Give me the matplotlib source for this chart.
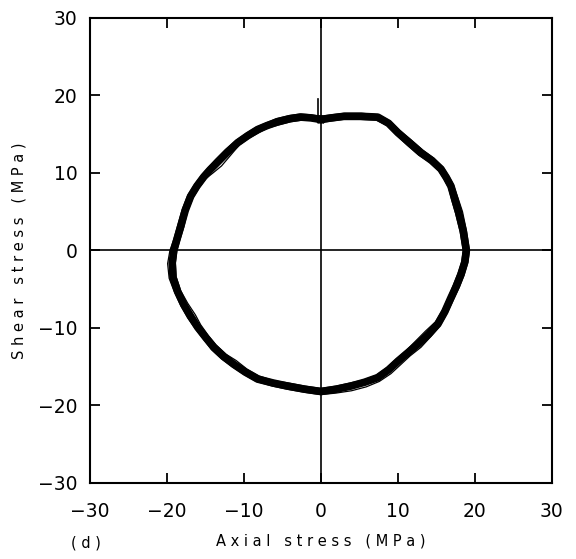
import matplotlib
matplotlib.use("Agg")
import matplotlib.pyplot as plt

# Main loop (centre of the thick band), axial / shear stress in MPa
axial_main = [0.0, -1.3, -2.6, -4.0, -5.6, -7.0, -8.2, -9.5, -10.8, -12.1,
              -13.4, -14.4, -15.2, -16.1, -16.9, -17.6, -18.2, -18.7, -19.1,
              -19.3, -19.2, -18.6, -17.8, -16.9, -16.0, -14.9, -13.9, -12.6,
              -11.3, -9.8, -8.2, -6.2, -4.3, -2.1, 0.0, 2.0, 3.9, 5.7, 7.4,
              8.8, 10.0, 11.3, 12.6, 14.0, 15.2, 16.1, 16.9, 17.6, 18.2, 18.7,
              18.9, 18.5, 17.9, 17.4, 16.9, 16.3, 15.6, 14.4, 13.0, 11.5,
              10.0, 8.8, 7.4, 5.2, 3.0, 1.4, 0.0]
shear_main = [16.9, 17.1, 17.2, 17.0, 16.6, 16.1, 15.6, 14.8, 13.9, 12.7,
              11.4, 10.4, 9.5, 8.3, 7.0, 5.2, 3.1, 1.4, 0.0,
              -1.6, -3.5, -5.3, -7.0, -8.5, -9.9, -11.3, -12.5, -13.7,
              -14.7, -15.7, -16.6, -17.1, -17.5, -17.9, -18.2, -17.9, -17.5,
              -17.0, -16.4, -15.4, -14.3, -13.2, -12.1, -10.8, -9.5, -7.9,
              -6.1, -4.6, -3.1, -1.5, 0.0, 2.5, 4.9, 6.6, 8.3, 9.4, 10.5,
              11.6, 12.6, 13.9, 15.2, 16.4, 17.2, 17.3, 17.3, 17.1, 16.9]

# Outer cycle
axial_outer = [0.0, -1.3, -2.7, -4.1, -5.8, -7.2, -8.4, -9.7, -11.0, -12.4,
               -13.7, -14.7, -15.5, -16.4, -17.3, -18.0, -18.6, -19.1, -19.6,
               -19.9, -19.7, -19.0, -18.2, -17.3, -16.3, -15.2, -14.2, -12.9,
               -11.5, -10.0, -8.4, -6.3, -4.4, -2.1, 0.0, 2.0, 4.0, 5.9, 7.6,
               9.1, 10.3, 11.6, 13.0, 14.3, 15.5, 16.4, 17.3, 18.0, 18.6, 19.1,
               19.3, 18.9, 18.4, 17.8, 17.2, 16.6, 15.9, 14.7, 13.3, 11.8,
               10.2, 9.0, 7.5, 5.3, 3.1, 1.4, 0.0]
shear_outer = [17.3, 17.5, 17.6, 17.4, 17.0, 16.4, 15.9, 15.1, 14.2, 13.0,
               11.7, 10.6, 9.7, 8.5, 7.1, 5.3, 3.2, 1.4, 0.0,
               -1.7, -3.6, -5.4, -7.1, -8.7, -10.1, -11.5, -12.8, -14.0,
               -15.0, -16.0, -16.9, -17.5, -17.9, -18.3, -18.6, -18.4, -18.1,
               -17.6, -16.9, -15.9, -14.8, -13.6, -12.5, -11.1, -9.7, -8.1,
               -6.2, -4.7, -3.2, -1.5, 0.0, 2.6, 5.0, 6.8, 8.5, 9.6, 10.7,
               11.9, 12.9, 14.2, 15.5, 16.7, 17.5, 17.7, 17.7, 17.5, 17.3]

# Inner cycle
axial_inner = [0.0, -1.3, -2.5, -3.9, -5.4, -6.9, -8.0, -9.3, -10.6, -11.7,
               -12.9, -14.0, -14.9, -15.8, -16.6, -17.3, -17.8, -18.3, -18.7,
               -18.9, -18.8, -18.2, -17.3, -16.3, -15.6, -14.6, -13.6, -12.3,
               -11.0, -9.6, -8.0, -6.1, -4.2, -2.1, 0.0, 2.0, 3.8, 5.6, 7.2,
               8.6, 9.8, 11.1, 12.3, 13.6, 14.9, 15.8, 16.6, 17.2, 17.8, 18.3,
               18.5, 18.1, 17.5, 17.0, 16.6, 16.0, 15.3, 14.1, 12.7, 11.2,
               9.8, 8.6, 7.2, 5.1, 2.9, 1.4, 0.0]
shear_inner = [16.5, 16.8, 16.8, 16.6, 16.2, 15.8, 15.2, 14.5, 13.6, 12.3,
               10.9, 10.0, 9.3, 8.1, 6.8, 5.1, 3.0, 1.4, 0.0,
               -1.6, -3.4, -5.2, -6.8, -8.3, -9.6, -11.0, -12.2, -13.4,
               -14.2, -15.3, -16.2, -16.8, -17.1, -17.5, -17.8, -17.5, -17.1,
               -16.7, -16.1, -15.1, -14.0, -12.9, -11.7, -10.4, -9.2, -7.7,
               -6.0, -4.5, -3.0, -1.5, 0.0, 2.4, 4.8, 6.5, 8.1, 9.2, 10.3,
               11.4, 12.3, 13.6, 14.9, 16.1, 16.8, 16.9, 16.9, 16.7, 16.5]

# Short loading spike at the start of the test
axial_spike = [-0.4, -0.4]
shear_spike = [17.0, 19.6]

ticks = [-30, -20, -10, 0, 10, 20, 30]

fig = plt.figure(figsize=(5.76, 5.59), dpi=100)
ax = fig.add_axes([0.156, 0.136, 0.802, 0.832])

ax.axhline(0, color="black", lw=1.2)
ax.axvline(0, color="black", lw=1.2)

ax.plot(axial_main, shear_main, color="black", lw=5.5, solid_joinstyle="round")
ax.plot(axial_outer, shear_outer, color="black", lw=0.9)
ax.plot(axial_inner, shear_inner, color="black", lw=0.9)
ax.plot(axial_spike, shear_spike, color="black", lw=1.2)

ax.set_xlim(-30, 30)
ax.set_ylim(-30, 30)
ax.set_xticks(ticks)
ax.set_yticks(ticks)
ax.tick_params(direction="in", length=7, width=1.3, top=True, right=True,
               labelsize=13.5)
ax.tick_params(axis="x", pad=14)
ax.tick_params(axis="y", pad=9)
for s in ax.spines.values():
    s.set_linewidth(1.5)

ax.set_xlabel("A x i a l   s t r e s s   ( M P a )", fontsize=10.5, labelpad=9)
ax.set_ylabel("S h e a r   s t r e s s   ( M P a )", fontsize=10.5, labelpad=8)
fig.text(0.15, 0.015, "( d )", fontsize=10.5, ha="center", va="bottom")

plt.savefig("out.png", dpi=100)
